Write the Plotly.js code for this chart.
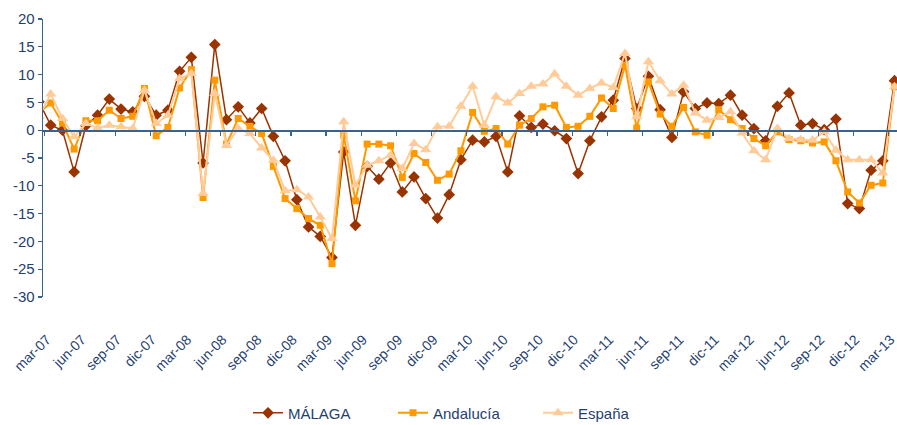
<!DOCTYPE html>
<html>
<head>
<meta charset="utf-8">
<script src="https://cdn.plot.ly/plotly-3.0.1.min.js"></script>
<style>html,body{margin:0;padding:0;background:#fff;}#chart{width:897px;height:425px;}</style>
</head>
<body>
<div id="chart"></div>
<script>
// Month categories feb-07 ... mar-13 (first one is partly outside the axis, as in the reference)
const mesesAbr = ['ene','feb','mar','abr','may','jun','jul','ago','sep','oct','nov','dic'];
const months = [];
for (let y = 2007, m = 1; ; ) {
  months.push(mesesAbr[m] + '-' + String(y).slice(2));
  if (y === 2013 && m === 2) break;
  m++; if (m === 12) { m = 0; y++; }
}

const tickLabels = ['mar-07','jun-07','sep-07','dic-07','mar-08','jun-08','sep-08','dic-08',
  'mar-09','jun-09','sep-09','dic-09','mar-10','jun-10','sep-10','dic-10',
  'mar-11','jun-11','sep-11','dic-11','mar-12','jun-12','sep-12','dic-12','mar-13'];

const malaga = [5.1, 0.9, 0, -7.5, 0.8, 2.7, 5.6, 3.8, 3.3, 6.1, 2.7, 3.6, 10.6, 13.1, -5.9, 15.4,
  1.9, 4.2, 1.3, 3.9, -1.1, -5.5, -12.5, -17.4, -19.1, -22.9, -3.9, -17.1, -6.5, -8.8, -5.9, -11.1,
  -8.4, -12.3, -15.8, -11.6, -5.3, -1.8, -2.1, -1.1, -7.5, 2.6, 0.5, 1.1, -0.1, -1.5, -7.8, -1.9,
  2.4, 5.4, 12.9, 3.9, 9.7, 3.7, -1.3, 6.9, 3.9, 4.9, 4.8, 6.3, 2.7, 0.3, -1.9, 4.3, 6.7, 0.9,
  1.2, 0.1, 2, -13.2, -14.1, -7.2, -5.5, 8.9];

const andalucia = [3.1, 4.9, 1.3, -3.4, 1.7, 1.7, 3.6, 2.1, 2.5, 7.5, -1, 0.5, 7.6, 10.9, -12.1, 9,
  -2.5, 2.1, 0.7, -0.6, -6.5, -12.3, -14.1, -15.9, -17.1, -24, -0.9, -12.7, -2.5, -2.5, -2.8, -8.5,
  -4.2, -5.8, -9, -7.9, -3.7, 3.2, -0.2, 0.3, -2.5, 0.9, 2.1, 4.2, 4.5, 0.5, 0.7, 2.5,
  5.8, 3.9, 11.7, 0.4, 8.7, 2.9, 0.7, 4.1, -0.3, -0.9, 3.7, 1.9, 0.3, -1.5, -2.8, -0.3, -1.7, -1.9,
  -2.3, -2.1, -5.5, -11.1, -13.1, -9.9, -9.5, 7.8];

const espana = [2.5, 6.5, 2.1, -1.2, 1.2, 0.4, 0.9, 0.6, 0.3, 7.2, 1.2, 2.7, 9.3, 10.2, -11.4, 6.6,
  -2.7, 0.3, -0.6, -3.2, -5.4, -10.9, -10.7, -12, -15.6, -19.5, 1.5, -9.9, -6.3, -5.5, -4.5, -6.9,
  -2.4, -3.5, 0.6, 0.7, 4.3, 7.9, 0.9, 6, 4.9, 6.6, 7.9, 8.3, 10.1, 7.9, 6.3, 7.5,
  8.5, 7.7, 13.8, 2.4, 12.3, 8.9, 6.5, 8.1, 3.1, 1.8, 2.3, 3.3, -0.5, -3.7, -5.3, 0.3, -1.5, -1.7,
  -1.8, -0.3, -3.6, -5.3, -5.3, -5.3, -7.7, 7.8];

const yTickVals = [20, 15, 10, 5, 0, -5, -10, -15, -20, -25, -30];
const yTickText = ['20', '15', '10', '5', '0', '-5', '-10', '-15', '-20', '-25', '-30'];

const textColor = '#1F3F6F';
const axisColor = '#3A6291';
const fontFam = '"Liberation Sans", Arial, sans-serif';

const xIdx = months.map((_, k) => k);
const tickIdx = tickLabels.map(l => months.indexOf(l));
const boundaryIdx = tickIdx.map(v => v - 0.5);
const xRange = [0.343, 73.21];

const traces = [
  {x: xIdx, y: malaga, name: 'MÁLAGA', type: 'scatter', mode: 'lines+markers',
   line: {color: '#993300', width: 1.5},
   marker: {symbol: 'diamond', size: 9, color: '#993300'}},
  {x: xIdx, y: andalucia, name: 'Andalucía', type: 'scatter', mode: 'lines+markers',
   line: {color: '#FF9900', width: 2},
   marker: {symbol: 'square', size: 7, color: '#FF9900'}},
  {x: xIdx, y: espana, name: 'España', type: 'scatter', mode: 'lines+markers',
   line: {color: '#FFCC99', width: 2},
   marker: {symbol: 'triangle-up', size: 10, color: '#FFCC99'}},
  // empty helper trace so that the zero-line axis (x2) is drawn
  {x: [], y: [], xaxis: 'x2', yaxis: 'y', type: 'scatter', mode: 'lines',
   showlegend: false, hoverinfo: 'skip'}
];

const layout = {
  width: 897, height: 425,
  margin: {l: 43, r: 0, t: 19, b: 128},
  paper_bgcolor: '#fff', plot_bgcolor: '#fff',
  font: {family: fontFam, color: textColor, size: 14},
  showlegend: true,
  legend: {orientation: 'h', xref: 'container', yref: 'container',
           x: 0.2765, xanchor: 'left', y: 0.028, yanchor: 'middle',
           font: {family: fontFam, size: 15, color: textColor}, entrywidth: 100,
           traceorder: 'normal'},
  xaxis: {
    type: 'linear', range: xRange, showgrid: false, zeroline: false, showline: false,
    tickvals: tickIdx, ticktext: tickLabels, tickangle: -45,
    ticks: 'outside', ticklen: 28, tickcolor: 'rgba(0,0,0,0)',
    ticklabeloverflow: 'allow', ticklabelshift: -4,
    tickfont: {family: fontFam, size: 14, color: textColor}
  },
  xaxis2: {
    type: 'linear', range: xRange, overlaying: 'x', anchor: 'free', position: 0.6,
    showgrid: false, zeroline: false, showline: true, linecolor: axisColor, linewidth: 1.3,
    tickvals: boundaryIdx, ticks: 'outside', ticklen: 4, tickcolor: axisColor, tickwidth: 1.3,
    showticklabels: false
  },
  yaxis: {
    range: [-30, 20], showgrid: false, zeroline: false, showline: true,
    linecolor: axisColor, linewidth: 1.3,
    tickvals: yTickVals, ticktext: yTickText, ticks: 'outside', ticklen: 4,
    tickcolor: axisColor, tickwidth: 1.3,
    tickfont: {family: fontFam, size: 15, color: textColor}
  }
};

Plotly.newPlot('chart', traces, layout, {staticPlot: true, displayModeBar: false});
</script>
</body>
</html>
